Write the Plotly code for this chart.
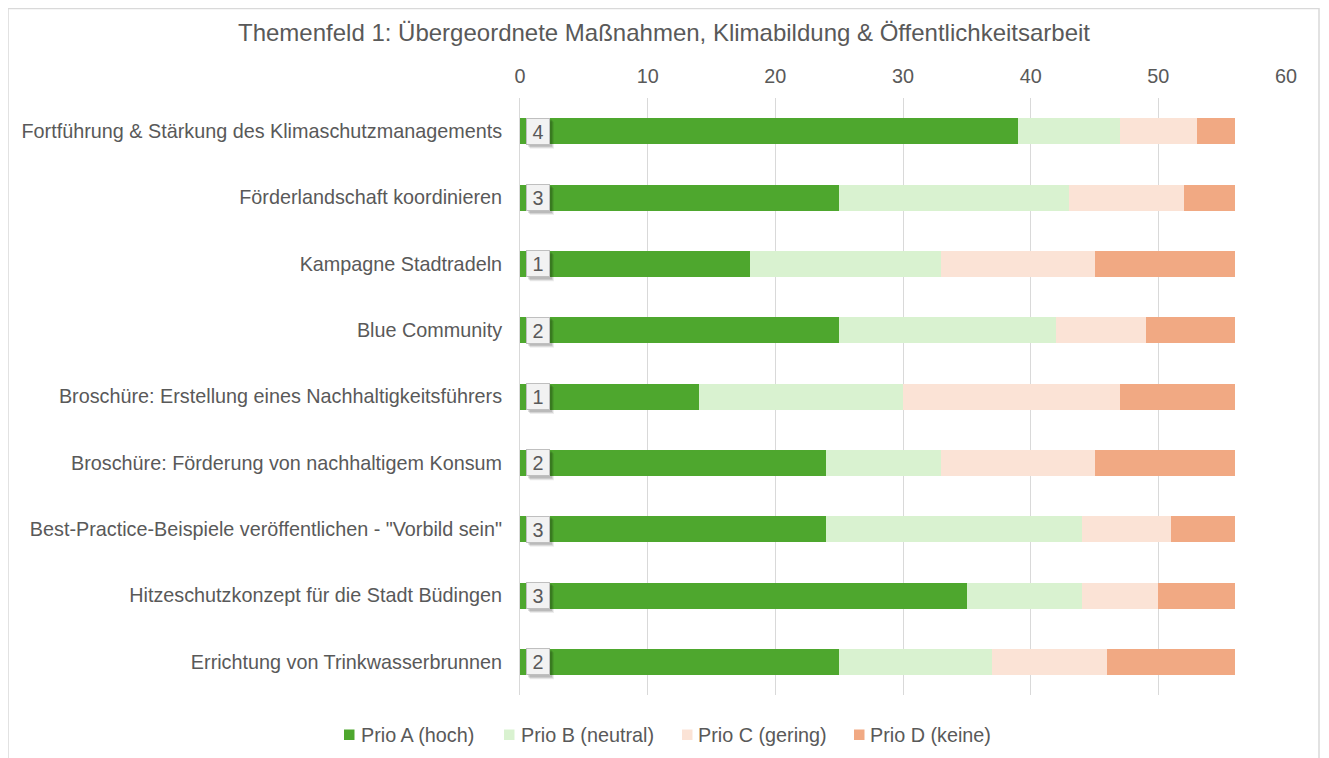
import plotly.graph_objects as go

categories = [
    "Fortführung & Stärkung des Klimaschutzmanagements",
    "Förderlandschaft koordinieren",
    "Kampagne Stadtradeln",
    "Blue Community",
    "Broschüre: Erstellung eines Nachhaltigkeitsführers",
    "Broschüre: Förderung von nachhaltigem Konsum",
    "Best-Practice-Beispiele veröffentlichen - \"Vorbild sein\"",
    "Hitzeschutzkonzept für die Stadt Büdingen",
    "Errichtung von Trinkwasserbrunnen",
]
prio_a = [39, 25, 18, 25, 14, 24, 24, 35, 25]
prio_b = [8, 18, 15, 17, 16, 9, 20, 9, 12]
prio_c = [6, 9, 12, 7, 17, 12, 7, 6, 9]
prio_d = [3, 4, 11, 7, 9, 11, 5, 6, 10]
box_labels = ["4", "3", "1", "2", "1", "2", "3", "3", "2"]
series_names = ["Prio A (hoch)", "Prio B (neutral)", "Prio C (gering)", "Prio D (keine)"]
series_colors = ["#4ea72e", "#d9f2d0", "#fbe3d6", "#f1a983"]

FONT = "Liberation Sans, Arial, sans-serif"
TXT = "#595959"
FS = 19.8

# page is offset by the default 8px body margin
OFF = 8
W, H = 1329 - OFF, 758 - OFF
ml, mt = 520 - OFF, 98 - OFF
pw, ph = 766, 597
mr, mb = W - ml - pw, H - mt - ph

def px(x):  # page pixel -> paper
    return (x - 520) / pw
def py(y):
    return 1 - (y - 98) / ph

XU = pw / 60.0               # px per x unit
YU = ph / len(categories)    # px per category
BOX_X = 1.41

fig = go.Figure()
for name, vals, col in zip(series_names, [prio_a, prio_b, prio_c, prio_d], series_colors):
    fig.add_trace(go.Bar(
        y=categories, x=vals, name=name, orientation="h",
        marker=dict(color=col, line=dict(width=0)),
        hoverinfo="x+name", showlegend=False,
    ))

for i, (cat, lab) in enumerate(zip(categories, box_labels)):
    # soft shadow below-right of the label box
    for k, a in ((4, 0.07), (3, 0.10), (2, 0.12)):
        fig.add_shape(type="rect", xref="x", yref="y",
                      x0=BOX_X - 12 / XU + k / XU, x1=BOX_X + 12 / XU + k / XU,
                      y0=i - 13.5 / YU + k / YU, y1=i + 13.5 / YU + k / YU,
                      fillcolor=f"rgba(0,0,0,{a})", line=dict(width=0), layer="above")
    fig.add_annotation(x=BOX_X, y=cat, text=lab, showarrow=False,
                       font=dict(size=FS, color=TXT, family=FONT),
                       bgcolor="#f2f2f2", bordercolor="#bfbfbf", borderwidth=1,
                       borderpad=2, width=18, height=21)

# manual legend (page coordinates)
legend_sq = [344, 504, 682, 854]
legend_tx = [359, 519, 696, 868]
ly = 735
for name, col, sx, tx in zip(series_names, series_colors, legend_sq, legend_tx):
    fig.add_shape(type="rect", xref="paper", yref="paper",
                  x0=px(sx), x1=px(sx + 10.5), y0=py(ly + 5), y1=py(ly - 5.5),
                  fillcolor=col, line=dict(width=0))
    fig.add_annotation(xref="paper", yref="paper", x=px(tx), y=py(ly),
                       xanchor="left", yanchor="middle", text=name, showarrow=False,
                       font=dict(size=FS, color=TXT, family=FONT))

fig.add_shape(type="rect", xref="paper", yref="paper",
              x0=px(8), x1=px(1319), y0=py(775), y1=py(8.5),
              line=dict(color="#d9d9d9", width=1.5), fillcolor="rgba(0,0,0,0)", layer="below")

fig.update_layout(
    width=W, height=H,
    barmode="stack", bargap=0.608,
    margin=dict(l=ml, r=mr, t=mt, b=mb),
    paper_bgcolor="white", plot_bgcolor="white",
    font=dict(family=FONT, size=FS, color=TXT),
    title=dict(text="Themenfeld 1: Übergeordnete Maßnahmen, Klimabildung & Öffentlichkeitsarbeit",
               x=(664 - OFF) / W, xanchor="center", xref="container",
               y=1 - (33 - OFF) / H, yanchor="middle", yref="container",
               font=dict(size=24, color=TXT, family=FONT)),
    xaxis=dict(side="top", range=[0, 60], dtick=10, showgrid=True,
               gridcolor="#d9d9d9", gridwidth=1, zeroline=False,
               tickfont=dict(size=FS, color=TXT), ticks="", showline=False,
               ticklabelstandoff=10, fixedrange=True),
    yaxis=dict(autorange="reversed", showline=True, linecolor="#d9d9d9", linewidth=1,
               ticks="", tickfont=dict(size=FS, color=TXT), ticklabelstandoff=13,
               showgrid=False, fixedrange=True),
    showlegend=False,
)

fig.write_html("out.html")
